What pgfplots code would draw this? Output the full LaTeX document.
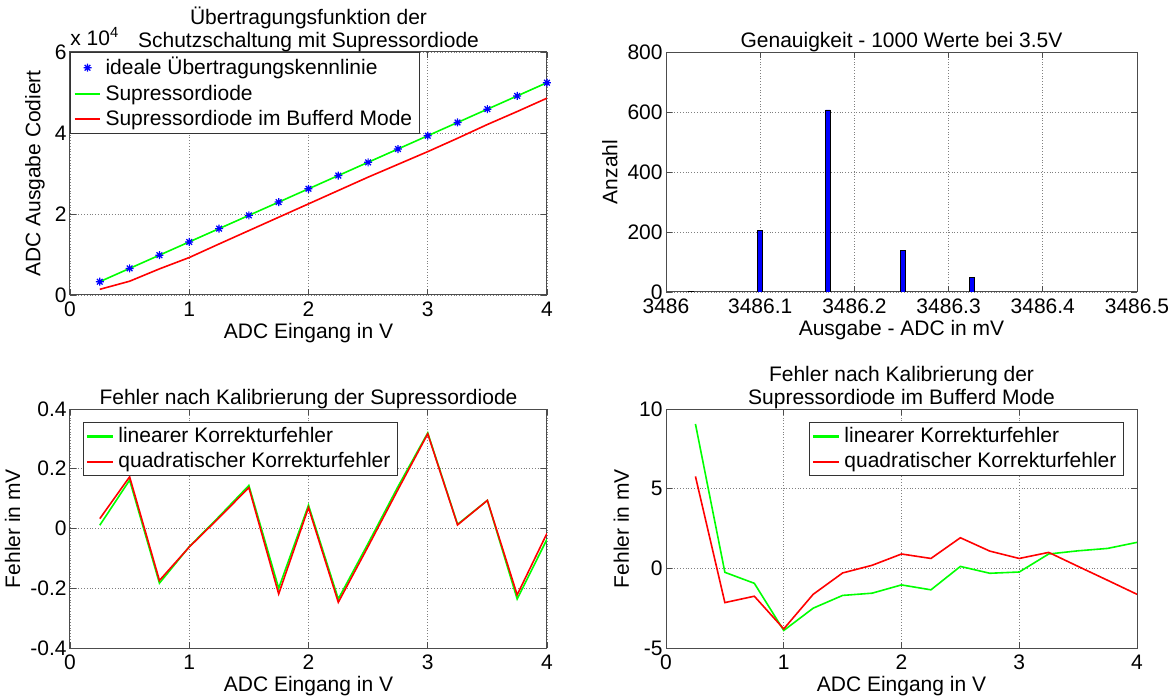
\documentclass[border=0pt]{standalone}
\usepackage{pgfplots}
\pgfplotsset{compat=1.18}
\usepackage{fontspec}
\setmainfont{Liberation Sans}

\definecolor{mgreen}{rgb}{0,1,0}
\definecolor{mred}{rgb}{1,0,0}
\definecolor{mblue}{rgb}{0,0,1}

\pgfdeclareplotmark{mstar}{%
  \pgfpathmoveto{\pgfqpoint{-\pgfplotmarksize}{0pt}}\pgfpathlineto{\pgfqpoint{\pgfplotmarksize}{0pt}}%
  \pgfpathmoveto{\pgfqpoint{0pt}{-\pgfplotmarksize}}\pgfpathlineto{\pgfqpoint{0pt}{\pgfplotmarksize}}%
  \pgfpathmoveto{\pgfqpoint{-.707\pgfplotmarksize}{-.707\pgfplotmarksize}}\pgfpathlineto{\pgfqpoint{.707\pgfplotmarksize}{.707\pgfplotmarksize}}%
  \pgfpathmoveto{\pgfqpoint{-.707\pgfplotmarksize}{.707\pgfplotmarksize}}\pgfpathlineto{\pgfqpoint{.707\pgfplotmarksize}{-.707\pgfplotmarksize}}%
  \pgfusepathqstroke}

\pgfplotsset{
  shortline/.style={/pgfplots/legend image code/.code={%
    \draw[mark repeat=2,mark phase=2,##1] plot coordinates {(0pt,0pt) (6.5pt,0pt) (13pt,0pt)};}},
  gl/.style={color=mgreen, line width=0.8pt, legend image post style={xscale=0.76, draw=mgreen, line width=1.1pt}},
  rl/.style={color=mred, line width=0.8pt, legend image post style={xscale=0.76, draw=mred, line width=1.1pt}},
  mstyle/.style={
    scale only axis,
    anchor=south west,
    font=\fontsize{10.5}{12.5}\selectfont,
    axis line style={black!70, line width=0.5pt},
    tick style={black!70, line width=0.4pt},
    tick align=inside,
    major tick length=3pt,
    grid=major,
    major grid style={densely dotted, black!50, line width=0.4pt},
    every axis title shift=0pt,
    title style={inner sep=0pt, align=center, font=\fontsize{10.5}{11.5}\selectfont},
    yticklabel style={inner xsep=1.5pt},
    xlabel style={yshift=3.5pt},
    legend cell align=left,
    legend style={draw=black!80, fill=white, inner xsep=1.5pt, inner ysep=0.5pt, row sep=-0.5pt,
      font=\fontsize{10.5}{12.5}\selectfont},
  }
}

\begin{document}
\begin{tikzpicture}
\path[use as bounding box] (0,0) rectangle (586.5pt,348.5pt);

% ---------------- top left ----------------
\begin{axis}[mstyle,
  at={(35pt,201pt)}, width=238.5pt, height=121.5pt,
  xmin=0, xmax=4, ymin=0, ymax=60000,
  xtick={0,1,2,3,4}, xticklabels={0,1,2,3,4},
  ytick={0,20000,40000,60000}, yticklabels={0,2,4,6},
  scaled y ticks=false,
  title={Übertragungsfunktion der\\Schutzschaltung mit Supressordiode},
  xlabel={ADC Eingang in V}, ylabel={ADC Ausgabe Codiert},
  legend style={at={(0,1)}, anchor=north west},
  extra description/.code={\node[anchor=south west, inner sep=0pt, yshift=3pt] at (0,1) {x 10\textsuperscript{4}};},
]
\addplot[only marks, mark=mstar, mark size=2pt, mblue, line width=0.6pt, shortline] coordinates {
(0.25,3276.8) (0.5,6553.6) (0.75,9830.4) (1,13107.2) (1.25,16384) (1.5,19660.8)
(1.75,22937.6) (2,26214.4) (2.25,29491.2) (2.5,32768) (2.75,36044.8) (3,39321.6)
(3.25,42598.4) (3.5,45875.2) (3.75,49152) (4,52428.8)};
\addlegendentry{ideale Übertragungskennlinie}
\addplot[gl] coordinates {
(0.25,3290) (0.5,6560) (0.75,9835) (1,13110) (1.25,16385) (1.5,19660)
(1.75,22935) (2,26215) (2.25,29490) (2.5,32770) (2.75,36045) (3,39320)
(3.25,42600) (3.5,45875) (3.75,49150) (4,52430)};
\addlegendentry{Supressordiode}
\addplot[rl] coordinates {
(0.25,1400) (0.5,3400) (0.75,6450) (1,9250) (1.25,12600) (1.5,15900)
(1.75,19200) (2,22500) (2.25,25800) (2.5,29100) (2.75,32250) (3,35400)
(3.25,38700) (3.5,42100) (3.75,45300) (4,48600)};
\addlegendentry{Supressordiode im Bufferd Mode}
\end{axis}

% ---------------- top right ----------------
\begin{axis}[mstyle,
  at={(333pt,202.5pt)}, width=235.5pt, height=120pt,
  xmin=0, xmax=0.5, ymin=0, ymax=800,
  xtick={0,0.1,0.2,0.3,0.4,0.5},
  xticklabels={3486,3486.1,3486.2,3486.3,3486.4,3486.5},
  ytick={0,200,400,600,800}, yticklabels={0,200,400,600,800},
  title={Genauigkeit - 1000 Werte bei 3.5V},
  xlabel={Ausgabe - ADC in mV}, ylabel={Anzahl},
]
\addplot[ybar, bar width=0.005, fill=mblue, draw=black, line width=0.4pt] coordinates {
(0.0262,3) (0.0993,204) (0.172,607) (0.2514,138) (0.3246,48)};
\end{axis}

% ---------------- bottom left ----------------
\begin{axis}[mstyle,
  at={(35pt,24.5pt)}, width=238.5pt, height=119.5pt,
  xmin=0, xmax=4, ymin=-0.4, ymax=0.4,
  xtick={0,1,2,3,4}, xticklabels={0,1,2,3,4},
  ytick={-0.4,-0.2,0,0.2,0.4}, yticklabels={-0.4,-0.2,0,0.2,0.4},
  title={Fehler nach Kalibrierung der Supressordiode},
  xlabel={ADC Eingang in V}, ylabel={Fehler in mV},
  legend style={at={(0.027,0.946)}, anchor=north west},
]
\addplot[gl] coordinates {
(0.25,0.011) (0.5,0.162) (0.75,-0.183) (1,-0.061) (1.25,0.040) (1.5,0.144)
(1.75,-0.200) (2,0.078) (2.25,-0.236) (2.5,-0.050) (2.75,0.140) (3,0.320)
(3.25,0.014) (3.5,0.094) (3.75,-0.236) (4,-0.036)};
\addlegendentry{linearer Korrekturfehler}
\addplot[rl] coordinates {
(0.25,0.033) (0.5,0.173) (0.75,-0.174) (1,-0.062) (1.25,0.036) (1.5,0.137)
(1.75,-0.219) (2,0.070) (2.25,-0.247) (2.5,-0.060) (2.75,0.130) (3,0.317)
(3.25,0.012) (3.5,0.094) (3.75,-0.222) (4,-0.016)};
\addlegendentry{quadratischer Korrekturfehler}
\end{axis}

% ---------------- bottom right ----------------
\begin{axis}[mstyle,
  at={(333pt,24.5pt)}, width=235.5pt, height=119.5pt,
  xmin=0, xmax=4, ymin=-5, ymax=10,
  xtick={0,1,2,3,4}, xticklabels={0,1,2,3,4},
  ytick={-5,0,5,10}, yticklabels={-5,0,5,10},
  title={Fehler nach Kalibrierung der\\Supressordiode im Bufferd Mode},
  xlabel={ADC Eingang in V}, ylabel={Fehler in mV},
  legend style={at={(0.972,0.946)}, anchor=north east},
]
\addplot[gl] coordinates {
(0.25,9.06) (0.5,-0.25) (0.75,-0.94) (1,-3.9) (1.25,-2.5) (1.5,-1.7)
(1.75,-1.56) (2,-1.04) (2.25,-1.35) (2.5,0.12) (2.75,-0.31) (3,-0.23)
(3.25,0.9) (3.5,1.1) (3.75,1.25) (4,1.63)};
\addlegendentry{linearer Korrekturfehler}
\addplot[rl] coordinates {
(0.25,5.77) (0.5,-2.15) (0.75,-1.75) (1,-3.8) (1.25,-1.63) (1.5,-0.29)
(1.75,0.19) (2,0.9) (2.25,0.62) (2.5,1.92) (2.75,1.08) (3,0.62)
(3.25,1.0) (3.5,0.12) (3.75,-0.75) (4,-1.63)};
\addlegendentry{quadratischer Korrekturfehler}
\end{axis}
\end{tikzpicture}
\end{document}
